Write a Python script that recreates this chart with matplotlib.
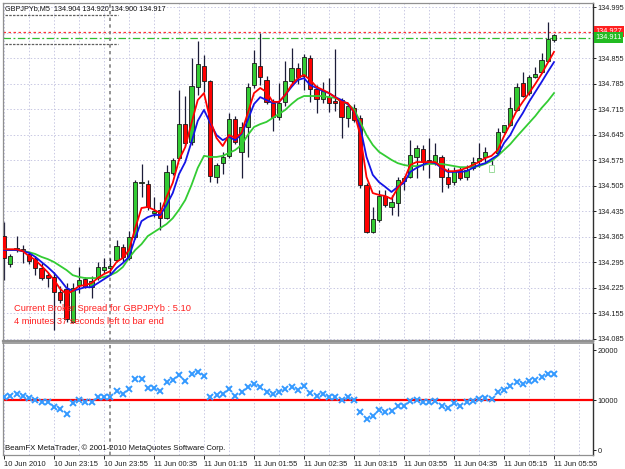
import matplotlib
matplotlib.use('Agg')
import matplotlib.pyplot as plt
import matplotlib.transforms as mtransforms
import numpy as np

# ---------------- data ----------------
symbol_title = "GBPJPYb,M5  134.904 134.920 134.900 134.917"

opens = [134.367, 134.290, 134.331, 134.331, 134.318, 134.304, 134.279, 134.260, 134.255, 134.214,
         134.222, 134.131, 134.233, 134.249, 134.227, 134.252, 134.274, 134.279, 134.302, 134.337,
         134.307, 134.364, 134.513, 134.510, 134.430, 134.439, 134.416, 134.540, 134.581, 134.674,
         134.625, 134.776, 134.833, 134.792, 134.529, 134.567, 134.587, 134.688, 134.598, 134.666,
         134.781, 134.833, 134.795, 134.732, 134.693, 134.735, 134.792, 134.828, 134.806, 134.855,
         134.770, 134.743, 134.748, 134.737, 134.740, 134.691, 134.718, 134.691, 134.507, 134.378,
         134.411, 134.477, 134.447, 134.458, 134.518, 134.529, 134.584, 134.606, 134.576, 134.570,
         134.584, 134.529, 134.515, 134.548, 134.529, 134.554, 134.573, 134.584, 134.562, 134.595,
         134.652, 134.672, 134.713, 134.787, 134.759, 134.803, 134.817, 134.847, 134.904]
highs = [134.406, 134.318, 134.367, 134.342, 134.323, 134.312, 134.293, 134.268, 134.268, 134.230,
         134.238, 134.238, 134.282, 134.255, 134.257, 134.296, 134.307, 134.307, 134.356, 134.345,
         134.381, 134.521, 134.565, 134.521, 134.474, 134.461, 134.562, 134.581, 134.768, 134.751,
         134.855, 134.902, 134.863, 134.795, 134.567, 134.598, 134.704, 134.696, 134.680, 134.787,
         134.877, 134.924, 134.806, 134.743, 134.787, 134.847, 134.883, 134.842, 134.866, 134.863,
         134.781, 134.789, 134.800, 134.880, 134.746, 134.729, 134.729, 134.699, 134.513, 134.447,
         134.493, 134.493, 134.480, 134.529, 134.532, 134.630, 134.617, 134.617, 134.636, 134.622,
         134.589, 134.554, 134.556, 134.556, 134.562, 134.584, 134.622, 134.611, 134.576, 134.663,
         134.672, 134.748, 134.787, 134.817, 134.809, 134.831, 134.869, 134.954, 134.920]
lows = [134.247, 134.282, 134.323, 134.293, 134.290, 134.260, 134.247, 134.227, 134.110, 134.184,
        134.131, 134.129, 134.211, 134.225, 134.197, 134.247, 134.266, 134.260, 134.296, 134.296,
        134.302, 134.359, 134.474, 134.439, 134.419, 134.384, 134.414, 134.535, 134.576, 134.614,
        134.617, 134.754, 134.762, 134.515, 134.513, 134.537, 134.581, 134.619, 134.526, 134.584,
        134.773, 134.781, 134.729, 134.655, 134.685, 134.724, 134.784, 134.784, 134.768, 134.735,
        134.704, 134.732, 134.707, 134.710, 134.636, 134.666, 134.680, 134.499, 134.375, 134.375,
        134.406, 134.447, 134.425, 134.422, 134.493, 134.526, 134.526, 134.548, 134.526, 134.562,
        134.488, 134.499, 134.507, 134.521, 134.521, 134.548, 134.556, 134.570, 134.543, 134.589,
        134.650, 134.669, 134.710, 134.748, 134.754, 134.800, 134.814, 134.844, 134.900]
closes = [134.307, 134.312, 134.334, 134.326, 134.299, 134.279, 134.252, 134.252, 134.214, 134.192,
          134.140, 134.225, 134.247, 134.227, 134.244, 134.282, 134.282, 134.285, 134.340, 134.310,
          134.364, 134.515, 134.515, 134.447, 134.436, 134.416, 134.543, 134.576, 134.674, 134.622,
          134.778, 134.839, 134.792, 134.532, 134.562, 134.584, 134.688, 134.625, 134.666, 134.776,
          134.842, 134.803, 134.735, 134.693, 134.732, 134.792, 134.828, 134.803, 134.858, 134.770,
          134.743, 134.765, 134.732, 134.732, 134.693, 134.724, 134.685, 134.507, 134.378, 134.414,
          134.477, 134.452, 134.461, 134.521, 134.526, 134.589, 134.609, 134.570, 134.573, 134.589,
          134.529, 134.510, 134.545, 134.526, 134.548, 134.570, 134.581, 134.598, 134.543, 134.652,
          134.672, 134.718, 134.776, 134.751, 134.803, 134.811, 134.850, 134.907, 134.917]

ma_red = [134.331, 134.331, 134.331, 134.326, 134.312, 134.302, 134.285, 134.268, 134.247, 134.222,
          134.208, 134.217, 134.230, 134.233, 134.238, 134.252, 134.263, 134.271, 134.296, 134.307,
          134.329, 134.389, 134.444, 134.447, 134.439, 134.430, 134.474, 134.513, 134.576, 134.611,
          134.677, 134.740, 134.759, 134.685, 134.636, 134.614, 134.644, 134.636, 134.650, 134.704,
          134.759, 134.773, 134.762, 134.735, 134.735, 134.754, 134.781, 134.800, 134.809, 134.795,
          134.776, 134.768, 134.759, 134.748, 134.735, 134.732, 134.707, 134.644, 134.529, 134.485,
          134.480, 134.477, 134.469, 134.499, 134.521, 134.562, 134.570, 134.570, 134.570, 134.570,
          134.556, 134.545, 134.545, 134.548, 134.554, 134.562, 134.570, 134.581, 134.587, 134.603,
          134.641, 134.674, 134.710, 134.735, 134.759, 134.784, 134.811, 134.842, 134.872]
ma_blue = [134.329, 134.329, 134.329, 134.326, 134.321, 134.310, 134.296, 134.282, 134.266, 134.247,
           134.225, 134.217, 134.222, 134.227, 134.227, 134.238, 134.249, 134.260, 134.279, 134.293,
           134.310, 134.362, 134.408, 134.419, 134.425, 134.425, 134.452, 134.485, 134.537, 134.570,
           134.625, 134.683, 134.713, 134.677, 134.644, 134.630, 134.639, 134.630, 134.647, 134.685,
           134.729, 134.748, 134.740, 134.732, 134.735, 134.754, 134.776, 134.795, 134.800, 134.781,
           134.773, 134.765, 134.759, 134.748, 134.740, 134.729, 134.707, 134.666, 134.584, 134.535,
           134.515, 134.502, 134.488, 134.502, 134.513, 134.543, 134.554, 134.562, 134.570, 134.567,
           134.554, 134.543, 134.543, 134.543, 134.545, 134.554, 134.562, 134.567, 134.578, 134.589,
           134.622, 134.644, 134.677, 134.704, 134.735, 134.762, 134.789, 134.817, 134.844]
ma_green = [134.331, 134.329, 134.329, 134.326, 134.323, 134.318, 134.310, 134.304, 134.296, 134.285,
            134.274, 134.260, 134.255, 134.252, 134.252, 134.252, 134.255, 134.260, 134.268, 134.282,
            134.307, 134.329, 134.345, 134.367, 134.378, 134.389, 134.400, 134.416, 134.439, 134.466,
            134.507, 134.554, 134.587, 134.584, 134.584, 134.587, 134.595, 134.603, 134.617, 134.644,
            134.666, 134.674, 134.680, 134.691, 134.702, 134.713, 134.729, 134.743, 134.751, 134.751,
            134.751, 134.751, 134.748, 134.746, 134.737, 134.729, 134.715, 134.680, 134.644, 134.617,
            134.598, 134.587, 134.576, 134.567, 134.562, 134.559, 134.559, 134.562, 134.565, 134.565,
            134.565, 134.562, 134.559, 134.556, 134.556, 134.556, 134.559, 134.565, 134.573, 134.587,
            134.603, 134.619, 134.639, 134.658, 134.677, 134.696, 134.718, 134.737, 134.759]

osc = [10600, 10720, 11120, 10720, 10460, 9930, 9530, 9530, 8610, 8210,
       7150, 9400, 9930, 9530, 9670, 10600, 10600, 10600, 11780, 11120,
       12180, 14300, 14300, 12450, 12310, 11780, 13640, 14030, 15090, 13770,
       15230, 15620, 14830, 10600, 10990, 11120, 12180, 10860, 11650, 12580,
       13240, 12580, 11650, 11250, 11650, 12180, 12580, 12050, 12710, 11390,
       10860, 11250, 10600, 10600, 9930, 10600, 9930, 7550, 6220, 6880,
       7940, 7680, 7810, 8870, 8870, 9800, 10060, 9670, 9670, 9800,
       8870, 8470, 9400, 8870, 9530, 9800, 10190, 10460, 10190, 11650,
       12050, 12840, 13640, 13110, 13900, 14030, 14560, 15230, 15230]
osc_level = 10000
osc_ticks = [0, 10000, 20000]

time_labels = ["10 Jun 2010", "10 Jun 23:15", "10 Jun 23:55", "11 Jun 00:35", "11 Jun 01:15",
               "11 Jun 01:55", "11 Jun 02:35", "11 Jun 03:15", "11 Jun 03:55", "11 Jun 04:35",
               "11 Jun 05:15", "11 Jun 05:55"]
bars_per_label = 8
bars_per_grid = 4
separator_bar = 17
hollow_bars = [78]

price_ticks = [134.085, 134.155, 134.225, 134.295, 134.365, 134.435, 134.505, 134.575,
               134.645, 134.715, 134.785, 134.855, 134.925, 134.995]
ask_price = 134.927
bid_price = 134.911

spread_text = "Current Broker Spread for GBPJPYb : 5.10"
timer_text = "4 minutes 37 seconds left to bar end"
copyright_text = "BeamFX MetaTrader, \u00a9 2001-2010 MetaQuotes Software Corp."

# ---------------- fonts ----------------
normal = ['Liberation Sans', 'DejaVu Sans']
plt.rcParams['font.family'] = normal

# ---------------- figure ----------------
W, H = 625, 469
fig = plt.figure(figsize=(W / 100, H / 100), dpi=100)
fig.patch.set_facecolor('white')

ax = fig.add_axes([3 / W, 1 - 341 / H, 590 / W, 338 / H])
ax2 = fig.add_axes([3 / W, 1 - 455 / H, 590 / W, 112 / H], sharex=ax)

n = len(opens)
x = np.arange(n)
o = np.array(opens); h = np.array(highs); l = np.array(lows); c = np.array(closes)

xmin, xmax = -0.16, 94.24
ax.set_xlim(xmin, xmax)
ax.set_ylim(134.0795, 135.006)
ax2.set_ylim(-1000, 21400)

grid_col = '#c9c9e3'
for yv in price_ticks:
    ax.axhline(yv, color=grid_col, lw=0.7, ls=(0, (1.5, 2)), zorder=0)
for gx in range(0, int(xmax) + 1, bars_per_grid):
    ax.axvline(gx, color=grid_col, lw=0.7, ls=(0, (1.5, 2)), zorder=0)
    ax2.axvline(gx, color=grid_col, lw=0.7, ls=(0, (1.5, 2)), zorder=0)

# candles
up = c >= o
wick_col = '#1c1c38'
ax.vlines(x, l, h, color=wick_col, lw=0.9, zorder=2)
bottom = np.minimum(o, c)
height = np.maximum(np.abs(c - o), 0.0012)
face = ['#33cc33' if u else '#ff0000' for u in up]
edge = ['#1a1a1a'] * n
for i in hollow_bars:
    face[i] = '#ffffff'
    edge[i] = '#8fd98f'
ax.bar(x, height, bottom=bottom, width=0.7, color=face, edgecolor=edge, lw=0.6, zorder=3)

# moving averages
ax.plot(x, ma_green, color='#33cc33', lw=1.3, zorder=4)
ax.plot(x, ma_blue, color='#1414e6', lw=1.3, zorder=4)
ax.plot(x, ma_red, color='#ff0000', lw=1.3, zorder=4)

# bid / ask lines
ax.axhline(ask_price, color='#ff3333', lw=0.9, ls=(0, (2, 2)), zorder=1)
ax.axhline(bid_price, color='#33bb33', lw=0.9, ls=(0, (6, 2, 1.5, 2)), zorder=1)

# period separator
for a in (ax, ax2):
    a.axvline(separator_bar, color='#808080', lw=1.2, ls=(0, (2, 2)), zorder=1)

# lower panel
ax2.axhline(osc_level, color='#ff0000', lw=1.6, zorder=2)
ax2.plot(x, osc, ls='none', marker='x', color='#3399ff', ms=3.8, mew=1.4, zorder=3)

# axis styling
for a in (ax, ax2):
    for s in ['left', 'top', 'bottom']:
        a.spines[s].set_color('#909090')
        a.spines[s].set_linewidth(0.9)
    a.spines['right'].set_color('#303030')
    a.spines['right'].set_linewidth(1.0)
    a.yaxis.tick_right()
    a.tick_params(axis='y', direction='out', length=2.5, width=0.7, colors='#202020',
                  labelsize=5.3, pad=1.0)
ax.spines['bottom'].set_linewidth(1.6)
ax2.spines['top'].set_linewidth(1.2)

ax.set_yticks(price_ticks)
ax.set_yticklabels(['%.3f' % p for p in price_ticks])
ax2.set_yticks(osc_ticks)
ax2.set_yticklabels([str(t) for t in osc_ticks])

label_pos = [i * bars_per_label for i in range(len(time_labels))]
ax2.set_xticks(label_pos)
ax2.set_xticklabels(time_labels, ha='left')
ax2.tick_params(axis='x', direction='out', length=3, width=0.7, colors='#202020',
                labelsize=5.5, pad=1.5)
ax.tick_params(axis='x', bottom=False, labelbottom=False)

# price label boxes
tr = mtransforms.blended_transform_factory(ax.transAxes, ax.transData)
ax.text(1.004, ask_price, '%.3f' % ask_price, transform=tr, fontsize=5.3, color='white',
        va='center', ha='left', clip_on=False, zorder=10,
        bbox=dict(boxstyle='square,pad=0.25', fc='#ff2020', ec='none'))
ax.text(1.004, bid_price, '%.3f' % bid_price, transform=tr, fontsize=5.3, color='white',
        va='center', ha='left', clip_on=False, zorder=11,
        bbox=dict(boxstyle='square,pad=0.25', fc='#22bb22', ec='none'))

# texts
ax.text(0.0034, 0.985, symbol_title, transform=ax.transAxes, fontsize=5.2, color='#101010',
        va='center', ha='left', zorder=6)
ax.plot([0.0034, 0.195], [0.9645, 0.9645], transform=ax.transAxes, color='#606060',
        lw=0.9, ls=(0, (2, 1)), zorder=5)
ax.plot([0.0034, 0.195], [0.8787, 0.8787], transform=ax.transAxes, color='#606060',
        lw=0.9, ls=(0, (2, 1)), zorder=5)
ax.text(0.0186, 0.0947, spread_text, transform=ax.transAxes, fontsize=6.7, color='#ff2020',
        va='center', ha='left', zorder=6)
ax.text(0.0186, 0.057, timer_text, transform=ax.transAxes, fontsize=6.7, color='#ff2020',
        va='center', ha='left', zorder=6)
ax2.text(0.0034, 0.06, copyright_text, transform=ax2.transAxes, fontsize=5.6, color='#101010',
         va='center', ha='left', zorder=6)

fig.savefig('out.png', dpi=100, facecolor='white')
